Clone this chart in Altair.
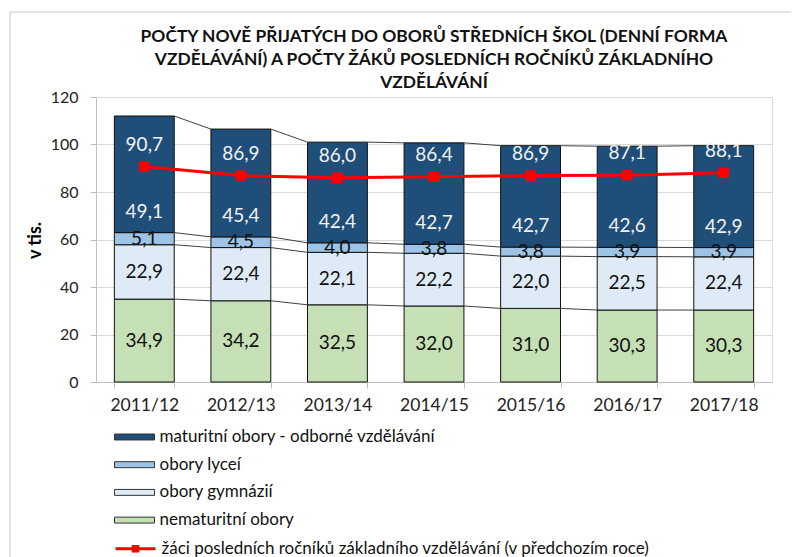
import altair as alt
import pandas as pd

years = ["2011/12", "2012/13", "2013/14", "2014/15", "2015/16", "2016/17", "2017/18"]
nematuritni = [34.9, 34.2, 32.5, 32.0, 31.0, 30.3, 30.3]
gymnazia = [22.9, 22.4, 22.1, 22.2, 22.0, 22.5, 22.4]
lycea = [5.1, 4.5, 4.0, 3.8, 3.8, 3.9, 3.9]
odborne = [49.1, 45.4, 42.4, 42.7, 42.7, 42.6, 42.9]
zaci = [90.7, 86.9, 86.0, 86.4, 86.9, 87.1, 88.1]

seg_names = ["maturitní obory - odborné vzdělávání", "obory lyceí", "obory gymnázií", "nematuritní obory"]
seg_colors = ["#1F4E79", "#9DC3E6", "#DEEBF7", "#C5E0B4"]
line_name = "žáci posledních ročníků základního vzdělávání (v předchozím roce)"

FONT = "Lato"

# stacked segments (bottom to top)
stack = [(seg_names[3], nematuritni), (seg_names[2], gymnazia), (seg_names[1], lycea), (seg_names[0], odborne)]
rows = []
tops = {name: [] for name, _ in stack}
for i, y in enumerate(years):
    base = 0.0
    for k, (name, vals) in enumerate(stack):
        v = vals[i]
        rows.append({"year": y, "seg": name, "v": v, "y0": base, "y1": base + v,
                     "mid": base + v / 2, "top": 1 if k == 3 else 0})
        base += v
        tops[name].append(base)
bars_df = pd.DataFrame(rows)

sl = []
for name, _ in stack:
    t = tops[name]
    for i in range(len(years) - 1):
        sl.append({"a": years[i], "b": years[i + 1], "ya": t[i], "yb": t[i + 1]})
series_df = pd.DataFrame(sl)

line_df = pd.DataFrame({"year": years, "v": zaci, "s": [line_name] * len(years)})

xscale = alt.Scale(domain=years, paddingInner=0.38, paddingOuter=0.19)
yscale = alt.Scale(domain=[0, 120])

x_enc = alt.X("year:N", scale=xscale, sort=years, title=None,
              axis=alt.Axis(labelAngle=0, tickBand="extent", tickSize=6, labelPadding=8,
                            labelFontSize=17.5, labelColor="#222", domainColor="#bfbfbf",
                            tickColor="#bfbfbf", grid=False, labelFont=FONT))

bar_legend = alt.Legend(orient="none", legendX=24.5, legendY=326, title=None,
                        symbolType="M-1.48,-0.22H1.48V0.22H-1.48Z", symbolSize=729,
                        symbolStrokeColor="#333", symbolStrokeWidth=1, labelOffset=11,
                        labelFontSize=17, labelFont=FONT, labelColor="#111", rowPadding=5.7,
                        padding=0, labelLimit=600)

bars = alt.Chart(bars_df).mark_bar(stroke="#111", strokeWidth=1).encode(
    x=x_enc,
    y=alt.Y("y0:Q", scale=yscale, title="v tis.",
            axis=alt.Axis(values=[0, 20, 40, 60, 80, 100, 120], tickSize=6, labelPadding=12,
                          labelFontSize=16, labelColor="#222", labelFont=FONT,
                          domainColor="#bfbfbf", tickColor="#bfbfbf", gridColor="#d9d9d9",
                          titleFont=FONT, titleFontSize=18, titleFontWeight="bold",
                          titleColor="#000", titleAngle=270, titleX=-61, titleY=143,
                          titleAlign="center", titleBaseline="middle")),
    y2="y1:Q",
    fill=alt.Fill("seg:N", scale=alt.Scale(domain=seg_names, range=seg_colors), legend=bar_legend),
)

series = alt.Chart(series_df).mark_rule(color="#404040", strokeWidth=1).encode(
    x=alt.X("a:N", scale=xscale, sort=years, bandPosition=1),
    x2=alt.X2("b:N", bandPosition=0),
    y=alt.Y("ya:Q", scale=yscale),
    y2="yb:Q",
)

line_legend = alt.Legend(orient="none", legendX=24.5, legendY=436.8, title=None,
                         symbolType="M-1.48,0H1.48M-0.17,-0.17H0.17V0.17H-0.17Z", symbolSize=729,
                         symbolStrokeWidth=3, symbolFillColor="#FF0000", labelOffset=11,
                         labelFontSize=17, labelFont=FONT, labelColor="#111", padding=0,
                         labelLimit=600)

line = alt.Chart(line_df).mark_line(strokeWidth=3).encode(
    x=alt.X("year:N", scale=xscale, sort=years),
    y=alt.Y("v:Q", scale=yscale),
    stroke=alt.Stroke("s:N", scale=alt.Scale(domain=[line_name], range=["#FF0000"]), legend=line_legend),
)

points = alt.Chart(line_df).mark_square(size=110, color="#FF0000", opacity=1).encode(
    x=alt.X("year:N", scale=xscale, sort=years),
    y=alt.Y("v:Q", scale=yscale),
)

fmt = "replace(format(datum.v, '.1f'), '.', ',')"

mid_labels = alt.Chart(bars_df).transform_filter("datum.top == 0").transform_calculate(
    lbl=fmt).mark_text(font=FONT, fontSize=19, color="#111", baseline="middle").encode(
    x=alt.X("year:N", scale=xscale, sort=years),
    y=alt.Y("mid:Q", scale=yscale),
    text="lbl:N",
)

top_labels = alt.Chart(bars_df).transform_filter("datum.top == 1").transform_calculate(
    lbl=fmt).mark_text(font=FONT, fontSize=19, color="#F2F2F2", baseline="middle", dy=-21).encode(
    x=alt.X("year:N", scale=xscale, sort=years),
    y=alt.Y("y0:Q", scale=yscale),
    text="lbl:N",
)

line_labels = alt.Chart(line_df).transform_calculate(
    lbl=fmt).mark_text(font=FONT, fontSize=19, color="#F2F2F2", baseline="middle", dy=-22).encode(
    x=alt.X("year:N", scale=xscale, sort=years),
    y=alt.Y("v:Q", scale=yscale),
    text="lbl:N",
)

# outer chart-area frame (left and top edges visible)
frame_l = alt.Chart(pd.DataFrame({"k": [0]})).mark_rule(color="#c8c8c8", strokeWidth=1, clip=False).encode(
    x=alt.value(-86), y=alt.value(-85), y2=alt.value(470))
frame_t = alt.Chart(pd.DataFrame({"k": [0]})).mark_rule(color="#c8c8c8", strokeWidth=1, clip=False).encode(
    x=alt.value(-86), x2=alt.value(700), y=alt.value(-85))

chart = alt.layer(bars, series, line, points, mid_labels, top_labels, line_labels, frame_l, frame_t).resolve_scale(
    fill="independent", stroke="independent"
).properties(
    width=676, height=285,
    title=alt.TitleParams(
        text=["POČTY NOVĚ PŘIJATÝCH DO OBORŮ STŘEDNÍCH ŠKOL (DENNÍ FORMA",
              "VZDĚLÁVÁNÍ) A POČTY ŽÁKŮ POSLEDNÍCH ROČNÍKŮ ZÁKLADNÍHO",
              "VZDĚLÁVÁNÍ"],
        font=FONT, fontSize=17.4, fontWeight="bold", color="#111", anchor="middle",
        frame="group", lineHeight=23.3, offset=8, dy=88),
    autosize=alt.AutoSizeParams(type="none"),
    padding={"left": 88, "top": 89, "right": 19, "bottom": 175},
).configure_view(stroke="#d9d9d9", strokeWidth=1).configure(background="white")

chart.save("out.html", embed_options={"renderer": "svg", "actions": False})
